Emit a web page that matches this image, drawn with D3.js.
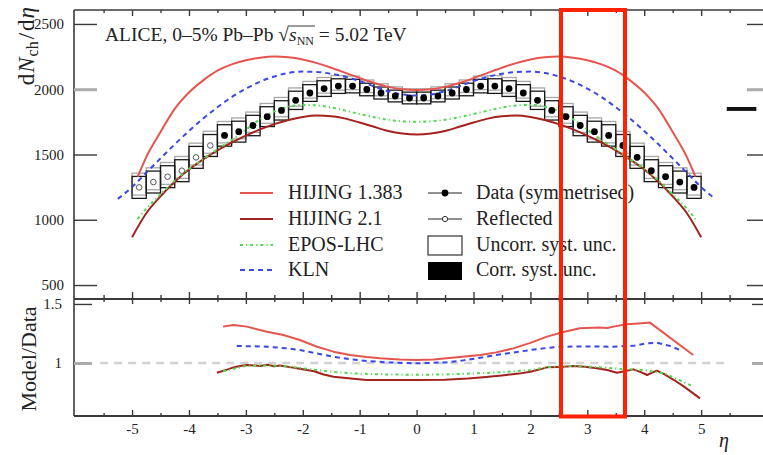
<!DOCTYPE html>
<html><head><meta charset="utf-8">
<script src="https://cdn.jsdelivr.net/npm/d3@7"></script>
<style>
body{margin:0;background:#fff}
text{font-family:"Liberation Serif","Times New Roman",serif;fill:#222}
</style>
</head><body>
<svg id="c" width="763" height="455"></svg>
<script>
// ---- measured dN/dη (symmetrised) and reflected points ----
const reflEta = [-4.875,-4.625,-4.375,-4.125,-3.875,-3.625];
const reflVal = [1248,1289,1330,1376,1478,1569];
const reflUnc = [84,84,84,84,84,84];

const dataEta = [-3.375,-3.125,-2.875,-2.625,-2.375,-2.125,-1.875,-1.625,-1.375,-1.125,-0.875,-0.625,-0.375,-0.125,
                 0.125,0.375,0.625,0.875,1.125,1.375,1.625,1.875,2.125,2.375,2.625,2.875,3.125,3.375,3.625,3.875,4.125,4.375,4.625,4.875];
const dataVal = [1646,1675,1722,1790,1838,1915,1971,2005,2024,2024,1998,1971,1948,1933,
                 1933,1948,1971,1998,2024,2024,2005,1971,1915,1838,1790,1722,1675,1646,1569,1478,1376,1330,1289,1248];
const dataUnc = [82,80,78,76,74,70,64,60,56,52,48,46,45,45,
                 45,45,46,48,52,56,60,64,70,74,76,78,80,82,84,84,84,84,84,84];

// correlated systematic uncertainty marker
const corrEta = [5.45,5.97];
const corrVal = [1834,1864];

// ---- model predictions ----
const hij1383Eta = [-4.9,-4.75,-4.5,-4.25,-4,-3.75,-3.5,-3.25,-3,-2.75,-2.5,-2.25,-2,-1.75,-1.5,-1.25,-1,-0.75,-0.5,-0.25,0,
                    0.25,0.5,0.75,1,1.25,1.5,1.75,2,2.25,2.5,2.75,3,3.25,3.5,3.75,4,4.25,4.5,4.75,4.9];
const hij1383Val = [1330,1480,1672,1850,1975,2068,2142,2190,2222,2242,2250,2245,2228,2200,2165,2125,2085,2048,2018,2000,1995,
                    2000,2018,2048,2085,2125,2165,2200,2228,2245,2250,2242,2222,2190,2142,2068,1975,1850,1672,1480,1330];

const hij21Eta = [-5,-4.75,-4.5,-4.25,-4,-3.75,-3.5,-3.25,-3,-2.75,-2.5,-2.25,-2,-1.75,-1.5,-1.25,-1,-0.75,-0.5,-0.25,0,
                  0.25,0.5,0.75,1,1.25,1.5,1.75,2,2.25,2.5,2.75,3,3.25,3.5,3.75,4,4.25,4.5,4.75,5];
const hij21Val = [866,1050,1180,1292,1385,1462,1532,1592,1645,1692,1733,1765,1788,1798,1793,1775,1745,1712,1680,1660,1653,
                  1660,1680,1712,1745,1775,1793,1798,1788,1765,1733,1692,1645,1592,1532,1462,1385,1292,1180,1050,866];

const eposEta = [-4.9,-4.75,-4.5,-4.25,-4,-3.75,-3.5,-3.25,-3,-2.75,-2.5,-2.25,-2,-1.75,-1.5,-1.25,-1,-0.75,-0.5,-0.25,0,
                 0.25,0.5,0.75,1,1.25,1.5,1.75,2,2.25,2.5,2.75,3,3.25,3.5,3.75,4,4.25,4.5,4.75,4.9];
const eposVal = [1005,1085,1195,1300,1390,1465,1540,1612,1690,1770,1830,1866,1880,1876,1860,1836,1810,1786,1766,1754,1750,
                 1754,1766,1786,1810,1836,1860,1876,1880,1866,1830,1770,1690,1612,1540,1465,1390,1300,1195,1085,1005];

const klnEta = [-5.25,-5,-4.75,-4.5,-4.25,-4,-3.75,-3.5,-3.25,-3,-2.75,-2.5,-2.25,-2,-1.75,-1.5,-1.25,-1,-0.75,-0.5,-0.25,0,
                0.25,0.5,0.75,1,1.25,1.5,1.75,2,2.25,2.5,2.75,3,3.25,3.5,3.75,4,4.25,4.5,4.75,5,5.25];
const klnVal = [1160,1250,1360,1470,1578,1680,1775,1862,1940,2005,2058,2098,2125,2135,2132,2118,2095,2062,2022,1985,1960,1952,
                1960,1985,2022,2062,2095,2118,2132,2135,2125,2098,2058,2005,1940,1862,1775,1680,1578,1470,1360,1250,1160];

// ---- model / data ratios ----
const rHij1383Eta = [-3.4,-3.22,-2.98,-2.63,-2.34,-2.05,-1.75,-1.46,-1.17,-0.88,-0.64,-0.3,0,0.3,0.53,0.8,1.12,1.4,1.7,2.0,2.29,2.6,2.87,3.2,3.35,3.46,3.69,3.9,4.1,4.86];
const rHij1383 =    [1.308,1.322,1.308,1.265,1.237,1.195,1.138,1.096,1.068,1.05,1.04,1.03,1.025,1.03,1.04,1.052,1.068,1.09,1.124,1.17,1.223,1.265,1.294,1.30,1.296,1.308,1.328,1.335,1.342,1.068];

const rKlnEta = [-3.16,-2.9,-2.63,-2.3,-2.05,-1.75,-1.46,-1.17,-0.88,-0.5,0,0.5,0.8,1.12,1.5,2.0,2.3,2.58,3.0,3.46,3.8,4.05,4.22,4.45,4.63];
const rKln =    [1.144,1.142,1.138,1.125,1.11,1.08,1.053,1.032,1.017,1.005,0.997,1.005,1.02,1.045,1.075,1.11,1.128,1.138,1.14,1.138,1.145,1.167,1.172,1.145,1.11];

const rHij21Eta = [-3.51,-3.35,-3.22,-3.1,-2.98,-2.85,-2.75,-2.62,-2.5,-2.4,-2.23,-2.1,-1.93,-1.8,-1.65,-1.46,-1.2,-0.88,-0.5,0,0.5,0.9,1.12,1.5,1.8,2.0,2.2,2.29,2.5,2.76,2.95,3.17,3.35,3.52,3.65,3.81,3.95,4.05,4.15,4.22,4.35,4.51,4.7,4.98];
const rHij21 =    [0.918,0.94,0.963,0.975,0.983,0.978,0.975,0.985,0.972,0.978,0.965,0.955,0.94,0.93,0.905,0.884,0.87,0.856,0.855,0.856,0.858,0.868,0.878,0.895,0.91,0.926,0.95,0.963,0.965,0.975,0.968,0.955,0.94,0.918,0.93,0.946,0.92,0.898,0.92,0.935,0.905,0.86,0.80,0.70];

const rEposEta = [-3.4,-3.0,-2.6,-2.3,-2.0,-1.75,-1.46,-1.17,-0.64,0,0.5,1.12,1.6,2.0,2.29,2.7,3.2,3.6,4.0,4.34,4.6,4.84];
const rEpos =    [0.93,0.975,0.98,0.972,0.955,0.94,0.925,0.913,0.904,0.90,0.903,0.913,0.925,0.94,0.965,0.975,0.965,0.95,0.94,0.913,0.86,0.805];

// axis tick values
const etaMajor = [-5,-4,-3,-2,-1,0,1,2,3,4,5];
const etaMinor = [-5.5,-4.5,-3.5,-2.5,-1.5,-0.5,0.5,1.5,2.5,3.5,4.5,5.5];
const yTicks = [500,1000,1500,2000,2500];
const rTicks = [1,1.5];

const legendModels = ["HIJING 1.383","HIJING 2.1","EPOS-LHC","KLN"];
const legendData = ["Data (symmetrised)","Reflected","Uncorr. syst. unc.","Corr. syst. unc."];

// ---- scales ----
const svg = d3.select("#c");
const x = d3.scaleLinear().domain([-6.02,6.21]).range([74,770]);
const yTop = d3.scaleLinear().domain([393,2607]).range([299,10]);
const yRat = d3.scaleLinear().domain([0.551,1.542]).range([416,299]);

const axisColor = "#3a3a3a";
function styleAxis(g, w){
  g.select(".domain").remove();
  g.selectAll(".tick line").attr("stroke",axisColor).attr("stroke-width",w||1.4);
  g.selectAll(".tick text").attr("fill","#2a2a2a").attr("font-size",15)
    .attr("font-family","Liberation Serif, serif");
}

// frame lines
const frame = svg.append("g").attr("stroke",axisColor).attr("fill","none");
frame.append("line").attr("x1",74).attr("x2",770).attr("y1",10).attr("y2",10).attr("stroke-width",1.5);
frame.append("line").attr("x1",74).attr("x2",770).attr("y1",299).attr("y2",299).attr("stroke-width",2);
frame.append("line").attr("x1",74).attr("x2",770).attr("y1",416).attr("y2",416).attr("stroke-width",2);
frame.append("line").attr("x1",74).attr("x2",74).attr("y1",10).attr("y2",416).attr("stroke-width",1.6);

// x axes: top frame, middle separator, bottom
const fmt = d => String(d);
svg.append("g").attr("transform","translate(0,10)")
  .call(d3.axisTop(x).tickValues(etaMajor).tickSize(-6).tickFormat("")).call(styleAxis);
svg.append("g").attr("transform","translate(0,10)")
  .call(d3.axisTop(x).tickValues(etaMinor).tickSize(-3).tickFormat("")).call(styleAxis);
svg.append("g").attr("transform","translate(0,299)")
  .call(d3.axisTop(x).tickValues(etaMajor).tickSize(7).tickFormat("")).call(styleAxis);
svg.append("g").attr("transform","translate(0,299)")
  .call(d3.axisBottom(x).tickValues(etaMajor).tickSize(5).tickFormat("")).call(styleAxis);
svg.append("g").attr("transform","translate(0,299)")
  .call(d3.axisTop(x).tickValues(etaMinor).tickSize(4).tickFormat("")).call(styleAxis);
svg.append("g").attr("transform","translate(0,299)")
  .call(d3.axisBottom(x).tickValues(etaMinor).tickSize(3).tickFormat("")).call(styleAxis);
svg.append("g").attr("transform","translate(0,416)")
  .call(d3.axisBottom(x).tickValues(etaMajor).tickSize(-6).tickPadding(6).tickFormat(fmt)).call(styleAxis)
  .selectAll(".tick text").attr("dy","0.71em").attr("y",7);
svg.append("g").attr("transform","translate(0,416)")
  .call(d3.axisBottom(x).tickValues(etaMinor).tickSize(-3).tickFormat("")).call(styleAxis);

// y axes
function greyTick(g, val){
  g.selectAll(".tick").filter(d => d === val).select("line")
    .attr("stroke","#ababab").attr("stroke-width",3);
}
svg.append("g").attr("transform","translate(74,0)")
  .call(d3.axisLeft(yTop).tickValues(yTicks).tickSize(-23).tickPadding(10).tickFormat(fmt))
  .call(styleAxis).call(g => greyTick(g,2000));
svg.append("g").attr("transform","translate(770,0)")
  .call(d3.axisRight(yTop).tickValues(yTicks).tickSize(-23).tickFormat(""))
  .call(styleAxis).call(g => greyTick(g,2000));
svg.append("g").attr("transform","translate(74,0)")
  .call(d3.axisLeft(yRat).tickValues(rTicks).tickSize(-18).tickPadding(12).tickFormat(fmt))
  .call(styleAxis).call(g => greyTick(g,1));
svg.append("g").attr("transform","translate(770,0)")
  .call(d3.axisRight(yRat).tickValues(rTicks).tickSize(-18).tickFormat(""))
  .call(styleAxis).call(g => greyTick(g,1));

// unity reference line in ratio panel
svg.append("line").attr("x1",x(-5.56)).attr("x2",x(5.5)).attr("y1",yRat(1)).attr("y2",yRat(1))
  .attr("stroke","#d2d2d2").attr("stroke-width",2.5).attr("stroke-dasharray","8,6");

// ---- uncertainty boxes ----
const binW = 0.25;
const allEta = reflEta.concat(dataEta), allVal = reflVal.concat(dataVal), allUnc = reflUnc.concat(dataUnc);
const boxes = svg.append("g").attr("fill","none");
boxes.selectAll("rect.g").data(allEta).join("rect")
  .attr("x",(d)=>x(d-binW/2)).attr("width",(d)=>x(d+binW/2)-x(d-binW/2))
  .attr("y",(d,i)=>yTop(allVal[i]+allUnc[i]+25)).attr("height",(d,i)=>yTop(allVal[i]-allUnc[i])-yTop(allVal[i]+allUnc[i]))
  .attr("stroke","#a8a8a8").attr("stroke-width",1.3);
boxes.selectAll("rect.b").data(allEta).join("rect")
  .attr("x",(d)=>x(d-binW/2)).attr("width",(d)=>x(d+binW/2)-x(d-binW/2))
  .attr("y",(d,i)=>yTop(allVal[i]+allUnc[i])).attr("height",(d,i)=>yTop(allVal[i]-allUnc[i])-yTop(allVal[i]+allUnc[i]))
  .attr("stroke","#1a1a1a").attr("stroke-width",1.3);

svg.append("rect").attr("x",x(corrEta[0])).attr("width",x(corrEta[1])-x(corrEta[0]))
  .attr("y",yTop(corrVal[1])).attr("height",yTop(corrVal[0])-yTop(corrVal[1])).attr("fill","#111");

// ---- model curves ----
const models = [
  {eta:hij1383Eta, val:hij1383Val, r:rHij1383, rEta:rHij1383Eta, color:"#e4554f", dash:null, w:2},
  {eta:hij21Eta, val:hij21Val, r:rHij21, rEta:rHij21Eta, color:"#a3221f", dash:null, w:2},
  {eta:eposEta, val:eposVal, r:rEpos, rEta:rEposEta, color:"#4fd94f", dash:"3,3,1.2,3", w:2},
  {eta:klnEta, val:klnVal, r:rKln, rEta:rKlnEta, color:"#3a48e6", dash:"5,4", w:2}
];
const smooth = d3.line().curve(d3.curveMonotoneX);
const jag = d3.line();
models.forEach(m => {
  svg.append("path").attr("d", smooth(m.eta.map((e,i)=>[x(e), yTop(m.val[i])])))
    .attr("fill","none").attr("stroke",m.color).attr("stroke-width",m.w).attr("stroke-dasharray",m.dash);
  svg.append("path").attr("d", jag(m.rEta.map((e,i)=>[x(e), yRat(m.r[i])])))
    .attr("fill","none").attr("stroke",m.color).attr("stroke-width",m.w).attr("stroke-dasharray",m.dash)
    .attr("stroke-linejoin","round");
});

// ---- data markers ----
svg.append("g").selectAll("circle").data(dataEta).join("circle")
  .attr("cx",d=>x(d)).attr("cy",(d,i)=>yTop(dataVal[i])).attr("r",3.4).attr("fill","#000");
svg.append("g").selectAll("circle").data(reflEta).join("circle")
  .attr("cx",d=>x(d)).attr("cy",(d,i)=>yTop(reflVal[i])).attr("r",2.8)
  .attr("fill","#fff").attr("stroke","#555").attr("stroke-width",1);

// ---- legend ----
const lg = svg.append("g");
const rowY = [193,219,245,270];
models.forEach((m,i) => {
  lg.append("line").attr("x1",240).attr("x2",273).attr("y1",rowY[i]).attr("y2",rowY[i])
    .attr("stroke",m.color).attr("stroke-width",m.w).attr("stroke-dasharray",m.dash);
  lg.append("text").attr("x",288).attr("y",rowY[i]+6).attr("font-size",20).text(legendModels[i]);
});
lg.append("line").attr("x1",428).attr("x2",462).attr("y1",rowY[0]).attr("y2",rowY[0]).attr("stroke","#222").attr("stroke-width",1.2);
lg.append("circle").attr("cx",445).attr("cy",rowY[0]).attr("r",3.4).attr("fill","#000");
lg.append("line").attr("x1",428).attr("x2",462).attr("y1",rowY[1]).attr("y2",rowY[1]).attr("stroke","#222").attr("stroke-width",1.2);
lg.append("circle").attr("cx",445).attr("cy",rowY[1]).attr("r",2.6).attr("fill","#fff").attr("stroke","#333");
lg.append("rect").attr("x",428).attr("y",236).attr("width",34).attr("height",19).attr("fill","#fff").attr("stroke","#333").attr("stroke-width",1.2);
lg.append("rect").attr("x",428).attr("y",262).attr("width",34).attr("height",18).attr("fill","#000");
legendData.forEach((t,i) => {
  lg.append("text").attr("x",476).attr("y",rowY[i]+6).attr("font-size",20).text(t);
});

// ---- titles ----
const title = svg.append("text").attr("x",105).attr("y",41).attr("font-size",19.5);
title.append("tspan").text("ALICE, 0–5% Pb–Pb ");
title.append("tspan").text("√");
title.append("tspan").attr("font-style","italic").text("s");
title.append("tspan").attr("font-size",12).attr("dy",4).text("NN");
title.append("tspan").attr("dy",-4).text(" = 5.02 TeV");
{
  const node = title.node();
  const full = node.textContent;
  const iS = full.indexOf("√") + 1;
  const a = node.getExtentOfChar(iS), b = node.getExtentOfChar(iS + 2);
  svg.append("line").attr("x1",a.x).attr("x2",b.x + b.width + 1).attr("y1",26).attr("y2",26)
    .attr("stroke","#222").attr("stroke-width",0.9);
}

const yt = svg.append("text").attr("transform","translate(34,7) rotate(-90)")
  .attr("text-anchor","end").attr("font-size",23);
yt.append("tspan").text("d");
yt.append("tspan").attr("font-style","italic").attr("dx",1).text("N");
yt.append("tspan").attr("font-size",16).attr("dy",4).attr("dx",1).text("ch");
yt.append("tspan").attr("dy",-4).attr("dx",2).text("/");
yt.append("tspan").attr("dx",2).text("d");
yt.append("tspan").attr("font-style","italic").attr("dx",1).text("η");

svg.append("text").attr("transform","translate(36,359) rotate(-90)").attr("text-anchor","middle")
  .attr("font-size",22).text("Model/Data");

svg.append("text").attr("x",724).attr("y",447).attr("text-anchor","middle").attr("font-size",20)
  .attr("font-style","italic").text("η");

// ---- highlighted pseudorapidity window ----
svg.append("rect").attr("x",561).attr("y",10).attr("width",64).attr("height",406.5)
  .attr("fill","none").attr("stroke","#ff2200").attr("stroke-width",4);
</script>
</body></html>
